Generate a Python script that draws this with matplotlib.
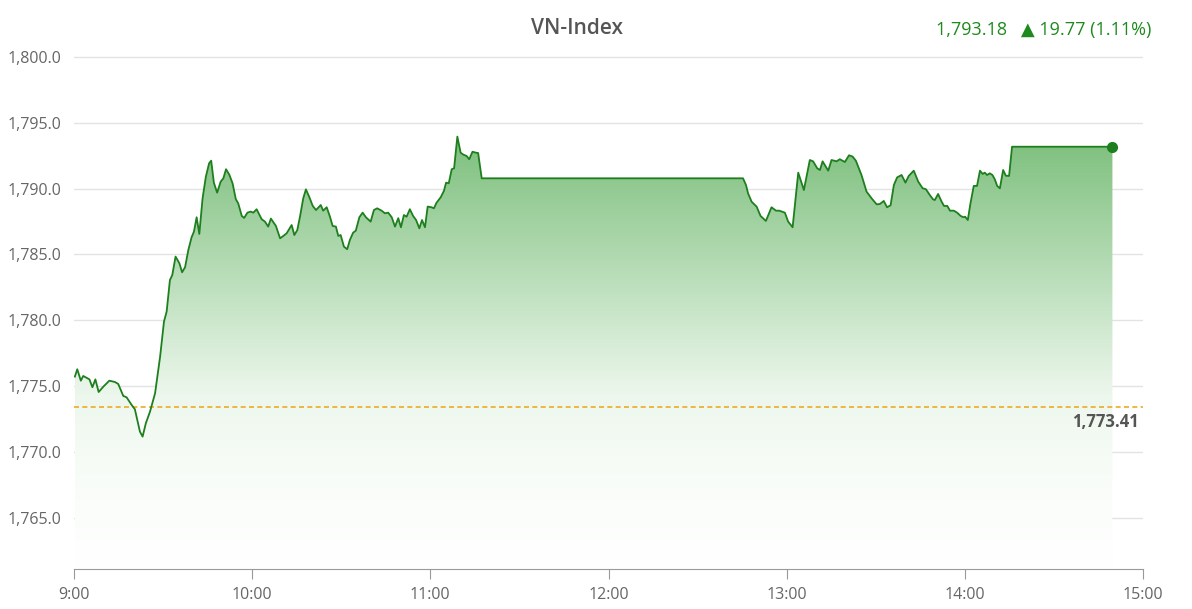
import matplotlib.pyplot as plt
import numpy as np
from matplotlib.colors import LinearSegmentedColormap

# minutes after 9:00 and index values
minutes = [
    0.3, 1.1, 2.3, 3.1, 5.2, 6.2, 7.2, 8.3, 9.9, 11.9, 13.8, 14.9, 16.6, 17.7,
    19.4, 20.5, 22.2, 23.1, 24.2, 25.6, 27.3, 29.0, 30.3, 31.2, 32.3, 33.1,
    34.2, 35.5, 36.4, 37.4, 38.5, 39.6, 40.4, 41.3, 42.2, 43.3, 44.4, 45.5,
    46.2, 47.1, 48.2, 49.4, 50.3, 51.2, 52.3, 53.4, 54.5, 55.3, 56.5, 57.3,
    58.4, 59.5, 60.4, 61.5, 63.2, 64.3, 65.4, 66.3, 68.0, 69.4, 70.5, 71.6,
    73.3, 74.2, 75.2, 76.1, 77.2, 78.1, 79.2, 80.4, 81.5, 83.1, 83.9, 85.1,
    86.2, 87.1, 88.2, 89.0, 89.8, 90.9, 92.0, 92.9, 94.0, 94.9, 96.1, 97.2,
    98.3, 99.9, 101.0, 102.1, 103.6, 104.7, 105.8, 107.0, 108.1, 109.2,
    110.1, 111.1, 112.0, 113.1, 114.2, 115.2, 116.3, 117.2, 118.2, 119.1,
    120.4, 121.2, 122.1, 123.5, 124.6, 125.3, 126.2, 127.2, 128.0, 129.1,
    130.2, 131.1, 132.2, 133.1, 134.2, 135.3, 136.1, 137.3, 225.3, 226.3,
    227.0, 228.2, 229.9, 231.2, 233.0, 234.9, 236.4, 237.5, 239.4, 240.5,
    242.0, 243.9, 245.8, 247.8, 248.9, 250.3, 251.2, 252.1, 254.0, 255.1,
    256.8, 257.9, 259.6, 261.0, 262.2, 263.3, 265.2, 266.9, 268.6, 270.3,
    271.4, 272.7, 273.8, 275.0, 276.1, 277.2, 278.7, 280.0, 281.1, 282.8,
    284.3, 285.8, 286.9, 288.2, 289.3, 289.9, 291.0, 292.2, 293.0, 294.1,
    295.0, 296.3, 297.4, 298.6, 299.5, 300.1, 301.0, 301.9, 303.0, 304.1,
    305.1, 306.0, 306.7, 307.5, 308.4, 309.3, 310.1, 310.9, 311.8, 312.9,
    313.8, 314.9, 315.9, 349.7,
]
values = [
    1775.71, 1776.27, 1775.40, 1775.76, 1775.50, 1774.90, 1775.50, 1774.54,
    1774.95, 1775.40, 1775.30, 1775.15, 1774.24, 1774.14, 1773.56, 1773.23,
    1771.53, 1771.15, 1772.17, 1773.05, 1774.44, 1777.23, 1779.89, 1780.65,
    1783.05, 1783.43, 1784.83, 1784.32, 1783.64, 1784.02, 1785.33, 1786.30,
    1786.73, 1787.82, 1786.55, 1789.26, 1790.90, 1791.92, 1792.12, 1790.45,
    1789.69, 1790.53, 1790.78, 1791.47, 1791.06, 1790.40, 1789.19, 1788.88,
    1787.92, 1787.77, 1788.17, 1788.25, 1788.17, 1788.43, 1787.67, 1787.49,
    1787.11, 1787.72, 1787.16, 1786.22, 1786.40, 1786.60, 1787.23, 1786.47,
    1786.85, 1787.86, 1789.26, 1789.94, 1789.38, 1788.68, 1788.37, 1788.75,
    1788.32, 1788.58, 1787.86, 1787.16, 1787.11, 1786.40, 1786.47, 1785.59,
    1785.39, 1786.09, 1786.65, 1786.80, 1787.82, 1788.17, 1787.82, 1787.49,
    1788.37, 1788.50, 1788.32, 1788.12, 1788.17, 1787.82, 1787.11, 1787.75,
    1787.06, 1787.99, 1787.86, 1788.43, 1787.92, 1787.61, 1786.98, 1787.61,
    1787.06, 1788.63, 1788.58, 1788.50, 1788.93, 1789.34, 1789.84, 1790.45,
    1790.40, 1791.47, 1791.54, 1793.95, 1792.73, 1792.58, 1792.48, 1792.23,
    1792.80, 1792.73, 1792.70, 1790.78, 1790.78, 1790.27, 1789.64, 1789.00,
    1788.62, 1787.92, 1787.54, 1788.58, 1788.32, 1788.32, 1788.17, 1787.49,
    1787.06, 1791.21, 1789.89, 1792.17, 1792.07, 1791.54, 1791.41, 1792.07,
    1791.36, 1792.17, 1792.07, 1792.23, 1792.02, 1792.53, 1792.43, 1792.12,
    1791.03, 1789.77, 1789.26, 1788.80, 1788.83, 1789.06, 1788.58, 1788.73,
    1790.27, 1790.85, 1791.03, 1790.45, 1790.96, 1791.36, 1790.53, 1790.02,
    1789.95, 1789.51, 1789.18, 1789.13, 1789.59, 1789.00, 1788.68, 1788.68,
    1788.32, 1788.32, 1788.17, 1787.92, 1787.82, 1787.86, 1787.61, 1788.88,
    1790.20, 1790.20, 1791.36, 1791.11, 1791.21, 1791.03, 1791.16, 1791.03,
    1790.70, 1790.20, 1790.02, 1791.41, 1790.98, 1790.96, 1793.18, 1793.18,
]

reference = 1773.41
last_value = 1793.18
change = 19.77
change_pct = 1.11
yticks = [1765.0, 1770.0, 1775.0, 1780.0, 1785.0, 1790.0, 1795.0, 1800.0]
xtick_minutes = [0, 60, 120, 180, 240, 300, 360]
xtick_labels = ["9:00", "10:00", "11:00", "12:00", "13:00", "14:00", "15:00"]

GREEN = "#1d7f1d"
GRID = "#e3e3e3"
TEXT = "#666666"

plt.rcParams["font.family"] = ["Open Sans", "DejaVu Sans"]

fig = plt.figure(figsize=(11.92, 6.09), dpi=100)
ax = fig.add_axes([74 / 1192, 40 / 609, (1143 - 74) / 1192, (569 - 40) / 609])
ymin, ymax = 1761.09, 1801.29
ax.set_xlim(0, 360)
ax.set_ylim(ymin, ymax)

t = np.array(minutes)
v = np.array(values)

# gradient fill under the line, fading out toward the bottom
poly = ax.fill_between(t, v, ymin, color="none", lw=0)
cmap = LinearSegmentedColormap.from_list(
    "g",
    [(0.0, (1.0, 1.0, 1.0)), (0.2, (0.975, 0.99, 0.975)),
     (0.4, (0.93, 0.97, 0.93)), (1.0, (0.49, 0.75, 0.49))],
)
grad = np.linspace(0, 1, 256).reshape(-1, 1)
im = ax.imshow(grad, cmap=cmap, aspect="auto", origin="lower",
               extent=[t[0], t[-1], ymin, v.max()], zorder=1)
im.set_clip_path(poly.get_paths()[0], transform=ax.transData)

ax.plot(t, v, color=GREEN, lw=1.3, zorder=3)
ax.plot(t[-1], v[-1], "o", color=GREEN, ms=7, zorder=4)

ax.axhline(reference, color="#eeaa22", lw=1.2, ls=(0, (3, 2)), zorder=2)
ax.text(358.5, reference - 0.5, f"{reference:,.2f}", ha="right", va="top",
        fontsize=12, fontweight="bold", color="#555555")

ax.set_yticks(yticks)
ax.set_yticklabels([f"{y:,.1f}" for y in yticks])
ax.set_xticks(xtick_minutes)
ax.set_xticklabels(xtick_labels)
ax.grid(axis="y", color=GRID, lw=1)
ax.set_axisbelow(True)
for side in ["top", "right", "left"]:
    ax.spines[side].set_visible(False)
ax.spines["bottom"].set_color("#999999")
ax.tick_params(axis="y", length=0, pad=9, labelsize=11.5, labelcolor=TEXT)
ax.tick_params(axis="x", length=7, color="#999999", pad=6, labelsize=11.5,
               labelcolor=TEXT)

fig.text(577 / 1192, 1 - 29 / 609, "VN-Index", ha="center", va="center",
         fontsize=15, fontweight="semibold", color="#555555")
fig.text(1151 / 1192, 1 - 30 / 609,
         f"{last_value:,.2f}   \u25b2 {change:.2f} ({change_pct:.2f}%)",
         ha="right", va="center", fontsize=13, color="#1e8a1e")

fig.savefig("out.png", dpi=100)
